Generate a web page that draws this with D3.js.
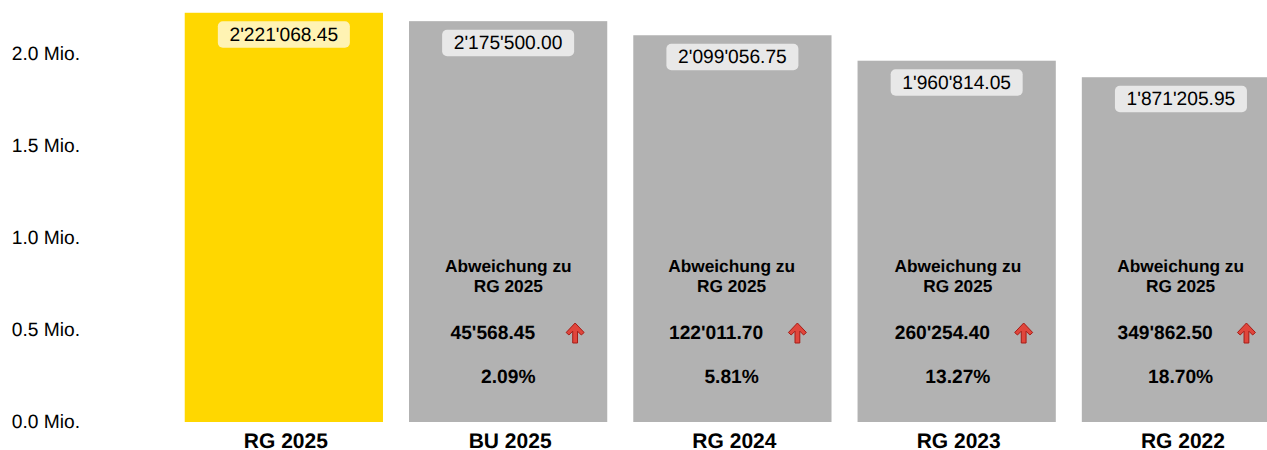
<!DOCTYPE html>
<html><head><meta charset="utf-8">
<script src="https://cdn.jsdelivr.net/npm/d3@7"></script>
<style>html,body{margin:0;background:#fff;overflow:hidden}text{font-family:"Liberation Sans",Arial,sans-serif;fill:#000;text-rendering:geometricPrecision}</style>
</head><body><svg id="c" width="1267" height="450"></svg>
<script>
const categories=["RG 2025","BU 2025","RG 2024","RG 2023","RG 2022"];
const values=[2221068.45,2175500.00,2099056.75,1960814.05,1871205.95];
const valueLabels=["2'221'068.45","2'175'500.00","2'099'056.75","1'960'814.05","1'871'205.95"];
const diffLabels=[null,"45'568.45","122'011.70","260'254.40","349'862.50"];
const pctLabels=[null,"2.09%","5.81%","13.27%","18.70%"];
const yTicks=[0,0.5e6,1e6,1.5e6,2e6];
const barColors=["#ffd700","#b2b2b2","#b2b2b2","#b2b2b2","#b2b2b2"];
const devTitle=["Abweichung zu","RG 2025"];

const svg=d3.select("#c");
const x=d3.scaleBand().domain(categories).range([172.4,1292.4]).paddingInner(26/224).paddingOuter(0.055);
const y=d3.scaleLinear().domain([0,2e6]).range([422,53.5]);

const yAxis=d3.axisLeft(y).tickValues(yTicks).tickSize(0).tickPadding(0)
  .tickFormat(d=>(d/1e6).toFixed(1)+" Mio.");
const gy=svg.append("g").attr("transform","translate(80,-0.3)").call(yAxis);
gy.select(".domain").remove();
gy.selectAll("text").style("font-size","19.2px").attr("text-anchor","end");

const xAxis=d3.axisBottom(x).tickSize(0).tickPadding(0);
const gx=svg.append("g").attr("transform","translate(2,433)").call(xAxis);
gx.select(".domain").remove();
gx.selectAll("text").style("font-size","21px").style("font-weight","700").attr("y",0).attr("dy","0.71em");

const g=svg.selectAll(".b").data(categories).join("g").attr("class","b");
g.append("rect").attr("x",d=>x(d)).attr("width",x.bandwidth())
  .attr("y",(d,i)=>y(values[i])).attr("height",(d,i)=>y(0)-y(values[i]))
  .attr("fill",(d,i)=>barColors[i]);
g.append("rect").attr("x",d=>x(d)+x.bandwidth()/2-66).attr("width",132)
  .attr("y",(d,i)=>y(values[i])+8.5).attr("height",26.5).attr("rx",5)
  .attr("fill","#fff").attr("fill-opacity",.7);
g.append("text").attr("x",d=>x(d)+x.bandwidth()/2).attr("y",(d,i)=>y(values[i])+21.5)
  .attr("dy","0.35em").attr("text-anchor","middle").style("font-size","19.2px")
  .text((d,i)=>valueLabels[i]);

const arrow=d3.path();
arrow.moveTo(0,-10);arrow.lineTo(9,-0.5);arrow.lineTo(6.2,2);arrow.lineTo(2.4,-1.8);arrow.lineTo(2.4,10);
arrow.lineTo(-2.4,10);arrow.lineTo(-2.4,-1.8);arrow.lineTo(-6.2,2);arrow.lineTo(-9,-0.5);arrow.closePath();

// small per-column layout nudges of the annotation block
const nudge=new Map([["BU 2025",.2],["RG 2024",-.8],["RG 2023",1.2],["RG 2022",-.3]]);
const arrowGap=new Map([["BU 2025",67],["RG 2024",65],["RG 2023",67],["RG 2022",65.5]]);
const dev=g.filter((d,i)=>diffLabels[i]!==null);
const cx=d=>x(d)+x.bandwidth()/2;
devTitle.forEach((t,k)=>{
  dev.append("text").attr("x",d=>cx(d)+nudge.get(d)).attr("y",266.4+k*19.5).attr("dy","0.35em")
    .attr("text-anchor","middle").style("font-size","17.3px").style("font-weight","700").text(t);
});
dev.append("text").attr("x",d=>cx(d)+nudge.get(d)-15.5).attr("y",332.6).attr("dy","0.35em")
  .attr("text-anchor","middle").style("font-size","19.2px").style("font-weight","700")
  .text(d=>diffLabels[categories.indexOf(d)]);
dev.append("path").attr("d",arrow.toString()).attr("transform",d=>`translate(${cx(d)+arrowGap.get(d)},333)`)
  .attr("fill","#e0463c").attr("stroke","#a51c16").attr("stroke-width",1);
dev.append("text").attr("x",d=>cx(d)+nudge.get(d)).attr("y",376.6).attr("dy","0.35em")
  .attr("text-anchor","middle").style("font-size","19.2px").style("font-weight","700")
  .text(d=>pctLabels[categories.indexOf(d)]);
</script></body></html>
